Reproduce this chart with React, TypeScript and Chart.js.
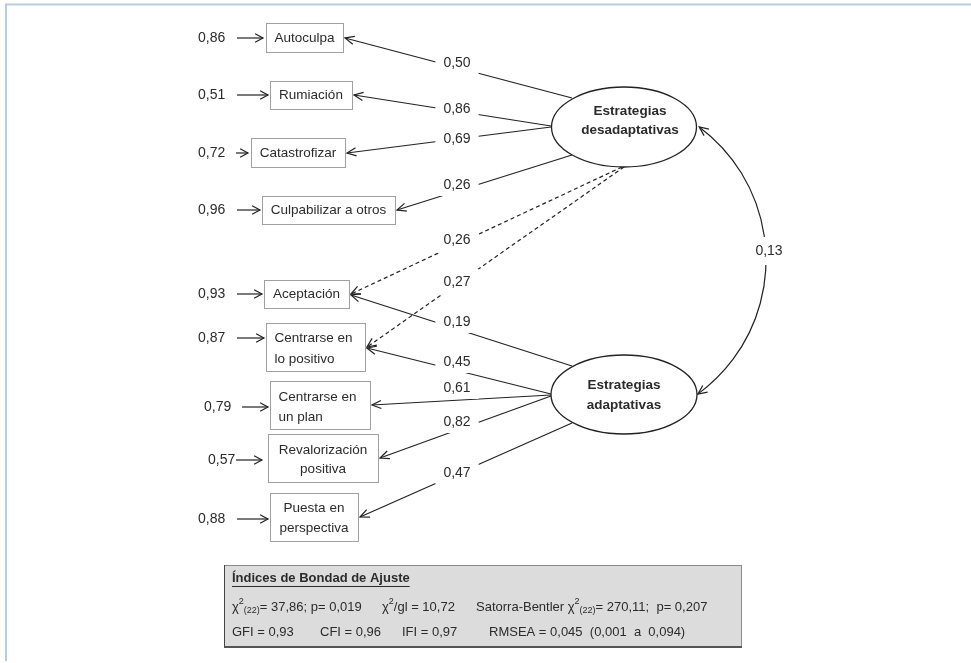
import React, { useEffect, useRef } from "react";
import { Chart, registerables } from "chart.js";

Chart.register(...registerables);

// ---------------- DATA ----------------
const indicators = [
  "Autoculpa",
  "Rumiación",
  "Catastrofizar",
  "Culpabilizar a otros",
  "Aceptación",
  "Centrarse en lo positivo",
  "Centrarse en un plan",
  "Revalorización positiva",
  "Puesta en perspectiva",
];
const errorVariances = [0.86, 0.51, 0.72, 0.96, 0.93, 0.87, 0.79, 0.57, 0.88];
const factors = ["Estrategias desadaptativas", "Estrategias adaptativas"];
const pathFactor = [0, 0, 0, 0, 0, 0, 1, 1, 1, 1, 1];
const pathIndicator = [0, 1, 2, 3, 4, 5, 4, 5, 6, 7, 8];
const pathLoadings = [0.5, 0.86, 0.69, 0.26, 0.26, 0.27, 0.19, 0.45, 0.61, 0.82, 0.47];
const pathCrossLoading = [false, false, false, false, true, true, false, false, false, false, false];
const factorCovariance = 0.13;
const fitTitle = "Índices de Bondad de Ajuste";
const chiSquare = "37,86";
const chiP = "0,019";
const chiDf = "22";
const chiRatio = "10,72";
const sbChiSquare = "270,11";
const sbP = "0,207";
const fitGFI = "0,93";
const fitCFI = "0,96";
const fitIFI = "0,97";
const fitRMSEA = "0,045";
const rmseaCI = ["0,001", "0,094"];

// ---------------- LAYOUT (positions in scale units) ----------------
const W = 971;
const H = 663;
const boxLayout = [
  { x0: 266, y0: 23, x1: 343, y1: 52, lines: ["Autoculpa"], align: "center", ty: [38] },
  { x0: 270, y0: 81, x1: 352, y1: 109, lines: ["Rumiación"], align: "center", ty: [95] },
  { x0: 251, y0: 138, x1: 345, y1: 167, lines: ["Catastrofizar"], align: "center", ty: [153] },
  { x0: 262, y0: 196, x1: 395, y1: 224, lines: ["Culpabilizar a otros"], align: "center", ty: [210] },
  { x0: 264, y0: 280, x1: 349, y1: 308, lines: ["Aceptación"], align: "center", ty: [294] },
  { x0: 266, y0: 323, x1: 365, y1: 371, lines: ["Centrarse en", "lo positivo"], align: "left", ty: [338, 359] },
  { x0: 270, y0: 381, x1: 370, y1: 429, lines: ["Centrarse en", "un plan"], align: "left", ty: [397, 417] },
  { x0: 268, y0: 434, x1: 378, y1: 482, lines: ["Revalorización", "positiva"], align: "center", ty: [450, 469] },
  { x0: 270, y0: 493, x1: 358, y1: 541, lines: ["Puesta en", "perspectiva"], align: "center", ty: [508, 528] },
];
const errLayout = [
  { lx: 198, a0: 237, a1: 263, y: 38 },
  { lx: 198, a0: 237, a1: 268, y: 95 },
  { lx: 198, a0: 236, a1: 248, y: 153 },
  { lx: 198, a0: 237, a1: 260, y: 210 },
  { lx: 198, a0: 237, a1: 262, y: 294 },
  { lx: 198, a0: 237, a1: 264, y: 338 },
  { lx: 204, a0: 242, a1: 268, y: 407 },
  { lx: 208, a0: 236, a1: 262, y: 460 },
  { lx: 198, a0: 237, a1: 268, y: 519 },
];
const ellipseLayout = [
  { cx: 624, cy: 127, rx: 72.5, ry: 40, ty: [111, 130], tx: 630 },
  { cx: 624, cy: 394.5, rx: 73, ry: 39.5, ty: [385, 405], tx: 624 },
];
const pathLayout = [
  { fx: 572, fy: 98, ix: 345, iy: 38, lx: 457, ly: 63 },
  { fx: 551, fy: 126, ix: 354, iy: 95, lx: 457, ly: 109 },
  { fx: 551, fy: 127, ix: 347, iy: 153, lx: 457, ly: 139 },
  { fx: 572, fy: 155, ix: 397, iy: 210, lx: 457, ly: 185 },
  { fx: 622, fy: 167, ix: 351, iy: 294, lx: 457, ly: 240 },
  { fx: 624, fy: 167, ix: 367, iy: 347, lx: 457, ly: 282 },
  { fx: 572, fy: 366, ix: 351, iy: 295, lx: 457, ly: 322 },
  { fx: 551, fy: 394, ix: 367, iy: 348, lx: 457, ly: 362 },
  { fx: 551, fy: 395, ix: 372, iy: 405, lx: 457, ly: 388 },
  { fx: 551, fy: 396, ix: 380, iy: 458, lx: 457, ly: 422 },
  { fx: 572, fy: 423, ix: 360, iy: 517, lx: 457, ly: 473 },
];
const covLayout = { cx: 600, cy: 260, r: 166, a0: -53.3, a1: 53.9, lx: 769, ly: 251 };
const fitBox = { x0: 224, y0: 565, x1: 741, y1: 647 };

const fmt = (v: number) => v.toFixed(2).replace(".", ",");
const NUM_FONT = '14px "Liberation Sans", Arial, sans-serif';
const BOX_FONT = '13.5px "Liberation Sans", Arial, sans-serif';
const BOLD_FONT = 'bold 13.5px "Liberation Sans", Arial, sans-serif';
const FIT_FONT = '13px "Liberation Sans", Arial, sans-serif';
const SMALL_FONT = '9px "Liberation Sans", Arial, sans-serif';
const INK = "#222222";
const TEXT = "#2b2b2b";

type Seg = { t: string; k?: "sup" | "sub" };

const diagramPlugin = {
  id: "semDiagram",
  afterDraw(chart: any) {
    const ctx: CanvasRenderingContext2D = chart.ctx;
    const xs = chart.scales.x;
    const ys = chart.scales.y;
    const px = (v: number) => xs.getPixelForValue(v);
    const py = (v: number) => ys.getPixelForValue(v);

    const head = (tx: number, ty: number, fx: number, fy: number, len = 10, spread = 0.42) => {
      const a = Math.atan2(ty - fy, tx - fx);
      ctx.beginPath();
      ctx.moveTo(tx - len * Math.cos(a - spread), ty - len * Math.sin(a - spread));
      ctx.lineTo(tx, ty);
      ctx.lineTo(tx - len * Math.cos(a + spread), ty - len * Math.sin(a + spread));
      ctx.stroke();
    };
    const label = (text: string, x: number, y: number, padX = 8, padY = 7) => {
      ctx.font = NUM_FONT;
      const w = ctx.measureText(text).width;
      ctx.fillStyle = "#ffffff";
      ctx.fillRect(x - w / 2 - padX, y - 7 - padY, w + 2 * padX, 14 + 2 * padY);
      ctx.fillStyle = TEXT;
      ctx.textAlign = "center";
      ctx.textBaseline = "middle";
      ctx.fillText(text, x, y);
    };

    ctx.save();
    // frame
    ctx.strokeStyle = "#bccbd9";
    ctx.lineWidth = 2;
    ctx.beginPath();
    ctx.moveTo(px(W), py(4.5));
    ctx.lineTo(px(6), py(4.5));
    ctx.lineTo(px(6), py(661));
    ctx.stroke();

    // loading paths
    pathLoadings.forEach((v, i) => {
      const L = pathLayout[i];
      const fx = px(L.fx), fy = py(L.fy), ix = px(L.ix), iy = py(L.iy);
      ctx.strokeStyle = INK;
      ctx.lineWidth = 1.2;
      ctx.setLineDash(pathCrossLoading[i] ? [4, 3] : []);
      ctx.beginPath();
      ctx.moveTo(fx, fy);
      ctx.lineTo(ix, iy);
      ctx.stroke();
      ctx.setLineDash([]);
      head(ix, iy, fx, fy);
    });
    pathLoadings.forEach((v, i) => {
      const L = pathLayout[i];
      label(fmt(v), px(L.lx), py(L.ly), 8, pathCrossLoading[i] ? 6 : 4);
    });

    // covariance arc
    {
      const c = covLayout;
      const a0 = (c.a0 * Math.PI) / 180;
      const a1 = (c.a1 * Math.PI) / 180;
      const cx = px(c.cx), cy = py(c.cy), r = c.r;
      ctx.strokeStyle = INK;
      ctx.lineWidth = 1.2;
      ctx.beginPath();
      ctx.arc(cx, cy, r, a0, a1, false);
      ctx.stroke();
      const t0x = cx + r * Math.cos(a0), t0y = cy + r * Math.sin(a0);
      head(t0x, t0y, t0x - Math.sin(a0) * 10, t0y + Math.cos(a0) * 10);
      const t1x = cx + r * Math.cos(a1), t1y = cy + r * Math.sin(a1);
      head(t1x, t1y, t1x + Math.sin(a1) * 10, t1y - Math.cos(a1) * 10);
      label(fmt(factorCovariance), px(c.lx), py(c.ly), 4, 7);
    }

    // indicator boxes
    indicators.forEach((name, i) => {
      const B = boxLayout[i];
      const x0 = px(B.x0), y0 = py(B.y0), x1 = px(B.x1), y1 = py(B.y1);
      ctx.fillStyle = "#ffffff";
      ctx.fillRect(x0, y0, x1 - x0, y1 - y0);
      ctx.strokeStyle = "#a0a0a0";
      ctx.lineWidth = 1;
      ctx.strokeRect(Math.round(x0) + 0.5, Math.round(y0) + 0.5, x1 - x0, y1 - y0);
      ctx.font = BOX_FONT;
      ctx.fillStyle = TEXT;
      ctx.textBaseline = "middle";
      B.lines.forEach((ln, k) => {
        if (B.align === "left") {
          ctx.textAlign = "left";
          ctx.fillText(ln, x0 + 8.5, py(B.ty[k]));
        } else {
          ctx.textAlign = "center";
          ctx.fillText(ln, (x0 + x1) / 2, py(B.ty[k]));
        }
      });
    });

    // error terms
    errorVariances.forEach((v, i) => {
      const E = errLayout[i];
      ctx.font = NUM_FONT;
      ctx.fillStyle = TEXT;
      ctx.textAlign = "left";
      ctx.textBaseline = "middle";
      ctx.fillText(fmt(v), px(E.lx), py(E.y));
      ctx.strokeStyle = INK;
      ctx.lineWidth = 1.2;
      ctx.beginPath();
      ctx.moveTo(px(E.a0), py(E.y));
      ctx.lineTo(px(E.a1), py(E.y));
      ctx.stroke();
      head(px(E.a1), py(E.y), px(E.a0), py(E.y), 9, 0.5);
    });

    // latent factors
    factors.forEach((name, i) => {
      const F = ellipseLayout[i];
      ctx.fillStyle = "#ffffff";
      ctx.strokeStyle = INK;
      ctx.lineWidth = 1.3;
      ctx.beginPath();
      ctx.ellipse(px(F.cx), py(F.cy), F.rx, F.ry, 0, 0, Math.PI * 2);
      ctx.fill();
      ctx.stroke();
      const parts = name.split(" ");
      ctx.font = BOLD_FONT;
      ctx.fillStyle = TEXT;
      ctx.textAlign = "center";
      ctx.textBaseline = "middle";
      parts.forEach((p, k) => ctx.fillText(p, px(F.tx), py(F.ty[k])));
    });

    // fit indices box
    {
      const x0 = px(fitBox.x0), y0 = py(fitBox.y0), x1 = px(fitBox.x1), y1 = py(fitBox.y1);
      ctx.fillStyle = "#dcdcdc";
      ctx.fillRect(x0, y0, x1 - x0, y1 - y0);
      ctx.strokeStyle = "#8a8a8a";
      ctx.lineWidth = 1;
      ctx.strokeRect(x0 + 0.5, y0 + 0.5, x1 - x0, y1 - y0);
      ctx.strokeStyle = "#444444";
      ctx.beginPath();
      ctx.moveTo(x0 + 0.5, y0);
      ctx.lineTo(x0 + 0.5, y1);
      ctx.stroke();
      ctx.lineWidth = 2;
      ctx.strokeStyle = "#555555";
      ctx.beginPath();
      ctx.moveTo(x0, y1);
      ctx.lineTo(x1 + 1, y1);
      ctx.stroke();

      ctx.fillStyle = TEXT;
      ctx.textAlign = "left";
      ctx.textBaseline = "middle";
      ctx.font = 'bold 13px "Liberation Sans", Arial, sans-serif';
      const tx = px(232), ty = py(578);
      ctx.fillText(fitTitle, tx, ty);
      const tw = ctx.measureText(fitTitle).width;
      ctx.lineWidth = 1;
      ctx.strokeStyle = TEXT;
      ctx.beginPath();
      ctx.moveTo(tx, ty + 8.5);
      ctx.lineTo(tx + tw, ty + 8.5);
      ctx.stroke();

      const rich = (segs: Seg[], x: number, y: number) => {
        let cx = x;
        segs.forEach((s) => {
          if (s.k === "sup") {
            ctx.font = SMALL_FONT;
            ctx.fillText(s.t, cx, y - 5);
          } else if (s.k === "sub") {
            ctx.font = SMALL_FONT;
            ctx.fillText(s.t, cx, y + 4);
          } else {
            ctx.font = FIT_FONT;
            ctx.fillText(s.t, cx, y);
          }
          cx += ctx.measureText(s.t).width;
        });
      };
      const y2 = py(607);
      rich([{ t: "χ" }, { t: "2", k: "sup" }, { t: "(" + chiDf + ")", k: "sub" }, { t: "= " + chiSquare + "; p= " + chiP }], px(232), y2);
      rich([{ t: "χ" }, { t: "2", k: "sup" }, { t: "/gl = " + chiRatio }], px(382), y2);
      rich(
        [{ t: "Satorra-Bentler χ" }, { t: "2", k: "sup" }, { t: "(" + chiDf + ")", k: "sub" }, { t: "= " + sbChiSquare + ";  p= " + sbP }],
        px(476),
        y2
      );
      const y3 = py(632);
      rich([{ t: "GFI = " + fitGFI }], px(232), y3);
      rich([{ t: "CFI = " + fitCFI }], px(320), y3);
      rich([{ t: "IFI = " + fitIFI }], px(402), y3);
      rich([{ t: "RMSEA = " + fitRMSEA + "  (" + rmseaCI[0] + "  a  " + rmseaCI[1] + ")" }], px(489), y3);
    }
    ctx.restore();
  },
};

export default function App() {
  const ref = useRef<HTMLCanvasElement | null>(null);
  useEffect(() => {
    document.body.style.margin = "0";
    const canvas = ref.current;
    if (!canvas) return;
    const chart = new Chart(canvas, {
      type: "scatter",
      data: {
        datasets: [
          {
            label: "indicadores",
            data: boxLayout.map((b) => ({ x: (b.x0 + b.x1) / 2, y: (b.y0 + b.y1) / 2 })),
            pointRadius: 0,
            showLine: false,
          },
        ],
      },
      options: {
        animation: false,
        responsive: false,
        maintainAspectRatio: false,
        layout: { padding: 0 },
        events: [],
        scales: {
          x: { type: "linear", min: 0, max: W, display: false },
          y: { type: "linear", min: 0, max: H, reverse: true, display: false },
        },
        plugins: { legend: { display: false }, tooltip: { enabled: false }, title: { display: false } },
      },
      plugins: [diagramPlugin],
    });
    return () => chart.destroy();
  }, []);
  return (
    <div style={{ width: W, height: H, background: "#ffffff" }}>
      <canvas ref={ref} width={W} height={H} style={{ display: "block", width: W, height: H }} />
    </div>
  );
}
